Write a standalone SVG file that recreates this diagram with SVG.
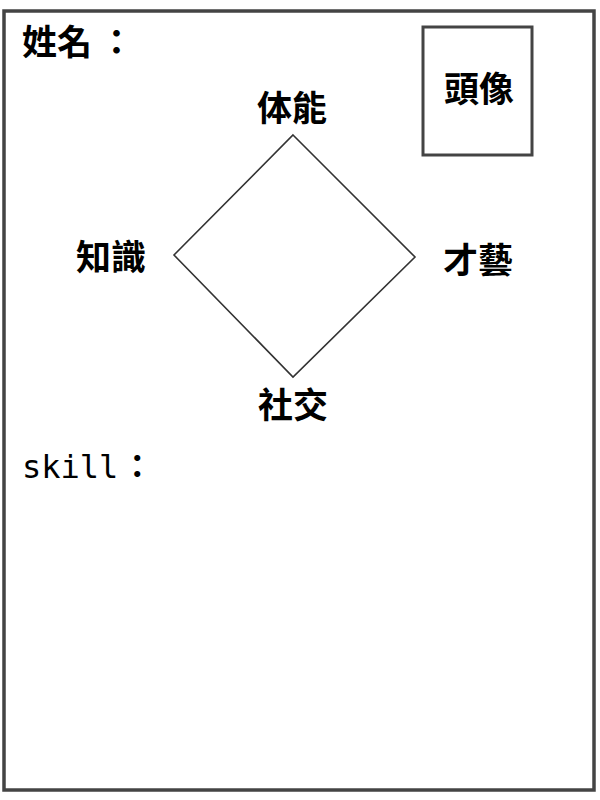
<svg xmlns="http://www.w3.org/2000/svg" width="600" height="800" viewBox="0 0 600 800">
<style>
.t{font-family:"Noto Sans CJK TC","Noto Sans CJK SC",sans-serif;font-size:35px;font-weight:700;fill:#000}
.m{font-family:"DejaVu Sans Mono","Noto Sans CJK TC",monospace;font-size:32px;font-weight:500;fill:#000}
.frame{fill:none;stroke:#444;stroke-width:3.5}
</style>
<rect width="600" height="800" fill="#fff"/>
<g id="card"><rect class="frame" x="4" y="11" width="590" height="779"/></g>
<g id="name"><text class="t" x="22" y="55">姓名<tspan dx="7">：</tspan></text></g>
<g id="photo"><rect x="423" y="27" width="109" height="128" fill="none" stroke="#444" stroke-width="3"/><text class="t" x="479" y="102" text-anchor="middle">頭像</text></g>
<g id="diamond"><polygon points="293,135 415,257 293,377 174,255" fill="none" stroke="#333" stroke-width="1.6"/></g>
<g id="labels">
<text class="t" x="292" y="121" text-anchor="middle">体能</text>
<text class="t" x="111" y="270" text-anchor="middle">知識</text>
<text class="t" x="478" y="273" text-anchor="middle">才藝</text>
<text class="t" x="293" y="418" text-anchor="middle">社交</text>
</g>
<g id="skill"><text class="m" x="22" y="478">skill<tspan dx="3" font-family="Noto Sans CJK TC" font-weight="700">：</tspan></text></g>
</svg>
